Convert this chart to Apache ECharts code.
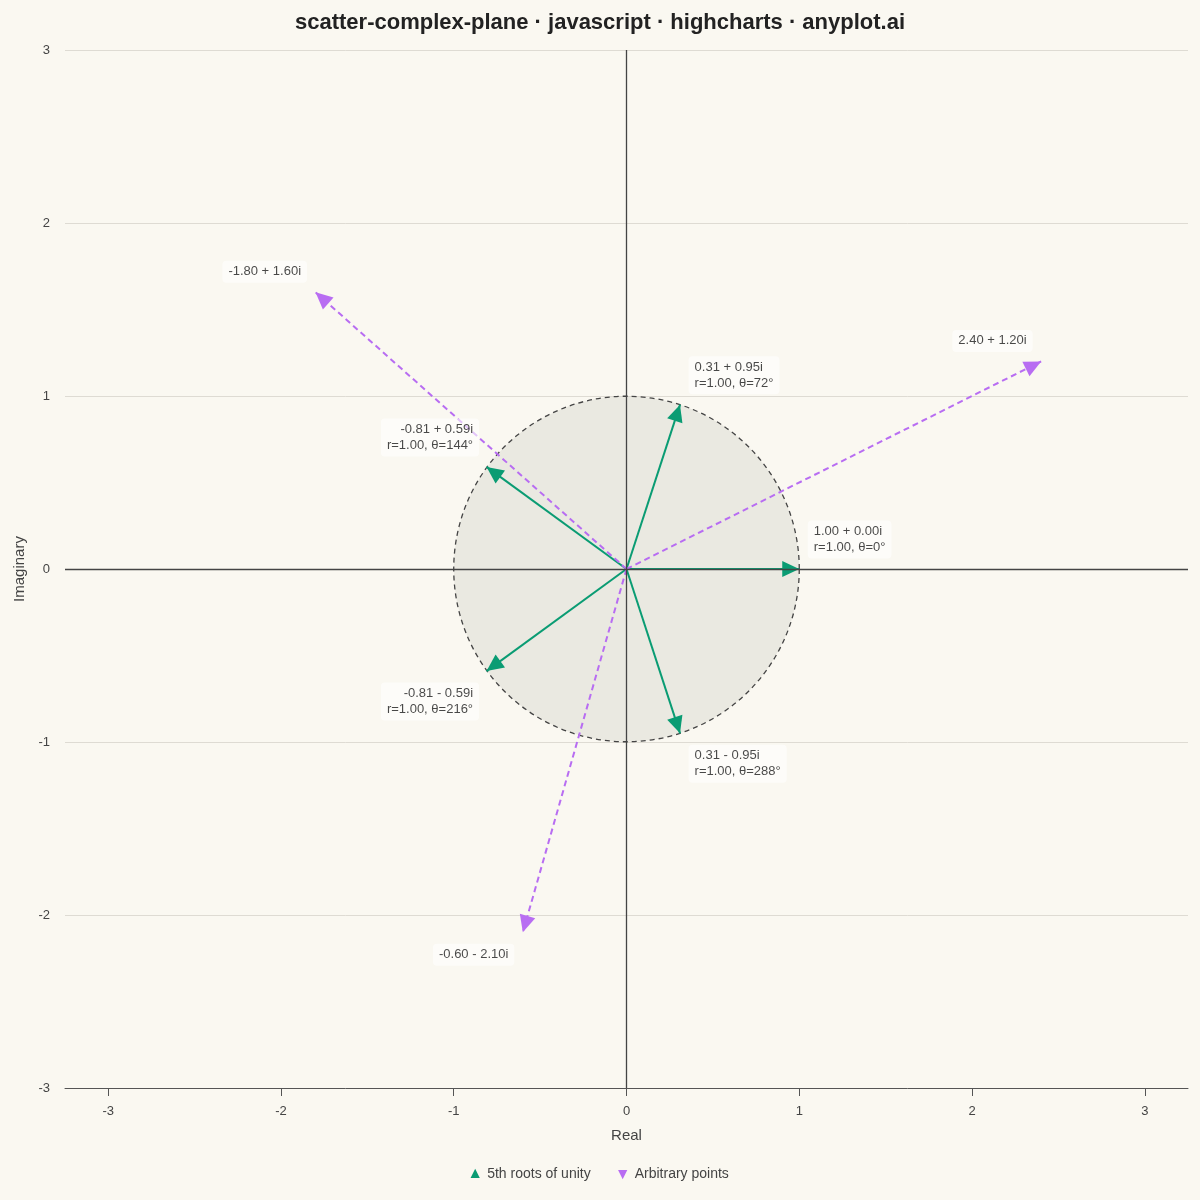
<!DOCTYPE html>
<html>
<head>
<meta charset="utf-8">
<script src="https://cdn.jsdelivr.net/npm/echarts@6/dist/echarts.min.js"></script>
<style>
html,body{margin:0;padding:0;background:#FAF8F1;}
#main{width:1200px;height:1200px;}
</style>
</head>
<body>
<div id="main"></div>
<script>
// values
var rootsRe = [1.00, 0.31, -0.81, -0.81, 0.31];
var rootsIm = [0.00, 0.95, 0.59, -0.59, -0.95];
var arbRe = [2.40, -1.80, -0.60];
var arbIm = [1.20, 1.60, -2.10];
var axisTicks = [-3, -2, -1, 0, 1, 2, 3];
var unitRadius = 1;

var GREEN = '#0A9C73';
var PURPLE = '#B86DF2';
var FONT = 'Liberation Sans, Arial, sans-serif';
var HEAD_W = 16, HEAD_H = 17;

var chart = echarts.init(document.getElementById('main'));

function fmt(re, im) {
    return re.toFixed(2) + (im < 0 ? ' - ' : ' + ') + Math.abs(im).toFixed(2) + 'i';
}
function polarText(re, im) {
    var r = Math.sqrt(re * re + im * im);
    var t = Math.atan2(im, re) * 180 / Math.PI;
    if (t < 0) t += 360;
    return 'r=' + r.toFixed(2) + ', θ=' + Math.round(t) + '°';
}

// shaft of each vector
function shafts(re, im) {
    return re.map(function (x, i) { return { coords: [[0, 0], [x, im[i]]] }; });
}
// arrow head: triangle turned along the vector, tip on the point
function heads(re, im) {
    return re.map(function (x, i) {
        var a = Math.atan2(im[i], x);
        return {
            value: [x, im[i]],
            symbolRotate: a * 180 / Math.PI - 90,
            symbolOffset: [-Math.cos(a) * HEAD_H / 2, Math.sin(a) * HEAD_H / 2]
        };
    });
}
function labelStyle(align, dx, dy) {
    return {
        show: true,
        position: [dx, dy],
        align: align,
        verticalAlign: 'middle',
        color: '#1A1A1A',
        fontSize: 13,
        lineHeight: 16,
        fontFamily: FONT,
        backgroundColor: 'rgba(255,255,255,0.75)',
        borderRadius: 4,
        padding: [3, 6]
    };
}
var rootLabels = rootsRe.map(function (x, i) {
    var y = rootsIm[i];
    var right = x > 0;
    return {
        value: [x, y],
        text: fmt(x, y) + '\n' + polarText(x, y),
        label: labelStyle(right ? 'left' : 'right', right ? 9 : -7, y < 0 ? 31 : -29)
    };
});
var arbLabels = arbRe.map(function (x, i) {
    var y = arbIm[i];
    return {
        value: [x, y],
        text: fmt(x, y),
        label: labelStyle('right', -8, y < 0 ? 23 : -20)
    };
});

var option = {
    backgroundColor: '#FAF8F1',
    animation: false,
    textStyle: { fontFamily: FONT },
    title: {
        text: 'scatter-complex-plane · javascript · highcharts · anyplot.ai',
        left: 'center',
        top: 7,
        textStyle: { fontSize: 22, fontWeight: 'bold', color: '#222', fontFamily: FONT }
    },
    legend: {
        top: 1162,
        left: 'center',
        itemWidth: 6,
        itemHeight: 6,
        itemGap: 28,
        textStyle: { fontSize: 14, color: '#444', fontFamily: FONT, padding: [0, 0, 0, 4] },
        data: [
            { name: '5th roots of unity', icon: 'triangle', itemStyle: { color: GREEN } },
            { name: 'Arbitrary points', icon: 'path://M0,0 L10,0 L5,10 Z', itemStyle: { color: PURPLE } }
        ]
    },
    grid: { left: 65, right: 12, top: 50, bottom: 112 },
    xAxis: {
        type: 'value',
        min: -3.25,
        max: 3.25,
        interval: 0.25,
        name: 'Real',
        nameLocation: 'middle',
        nameGap: 40,
        nameTextStyle: { fontSize: 15, color: '#444' },
        axisLine: { onZero: false, lineStyle: { color: '#555', width: 1 } },
        axisTick: { customValues: axisTicks, length: 8, lineStyle: { color: '#555' } },
        axisLabel: { customValues: axisTicks, color: '#444', fontSize: 13, margin: 17 },
        splitLine: { show: false }
    },
    yAxis: {
        type: 'value',
        min: -3,
        max: 3,
        interval: 1,
        name: 'Imaginary',
        nameLocation: 'middle',
        nameGap: 36,
        nameTextStyle: { fontSize: 15, color: '#444' },
        axisLine: { show: false },
        axisTick: { show: false },
        axisLabel: { color: '#444', fontSize: 13, margin: 15 },
        splitLine: { lineStyle: { color: '#DEDBD3' } }
    },
    series: [
        {
            // unit circle
            type: 'custom',
            silent: true,
            z: 1,
            data: [[0, 0]],
            renderItem: function (params, api) {
                var c = api.coord([0, 0]);
                var e = api.coord([unitRadius, 0]);
                return {
                    type: 'circle',
                    shape: { cx: c[0], cy: c[1], r: e[0] - c[0] },
                    style: { fill: 'rgba(200,198,190,0.3)', stroke: '#444', lineWidth: 1.3, lineDash: [5, 4] }
                };
            },
            markLine: {
                silent: true,
                symbol: 'none',
                label: { show: false },
                lineStyle: { color: '#444', type: 'solid', width: 1.3 },
                data: [{ xAxis: 0 }, { yAxis: 0 }]
            }
        },
        {
            name: '5th roots of unity',
            type: 'lines',
            coordinateSystem: 'cartesian2d',
            z: 3,
            lineStyle: { color: GREEN, width: 2, opacity: 1 },
            data: shafts(rootsRe, rootsIm)
        },
        {
            name: '5th roots of unity',
            type: 'scatter',
            symbol: 'triangle',
            symbolSize: [HEAD_W, HEAD_H],
            z: 4,
            itemStyle: { color: GREEN, opacity: 1 },
            data: heads(rootsRe, rootsIm)
        },
        {
            name: 'Arbitrary points',
            type: 'lines',
            coordinateSystem: 'cartesian2d',
            z: 3,
            lineStyle: { color: PURPLE, width: 2, type: [6, 4], opacity: 1 },
            data: shafts(arbRe, arbIm)
        },
        {
            name: 'Arbitrary points',
            type: 'scatter',
            symbol: 'triangle',
            symbolSize: [HEAD_W, HEAD_H],
            z: 4,
            itemStyle: { color: PURPLE, opacity: 1 },
            data: heads(arbRe, arbIm)
        },
        {
            name: '5th roots of unity',
            type: 'scatter',
            symbolSize: 1,
            z: 5,
            itemStyle: { color: 'rgba(0,0,0,0)' },
            label: { formatter: function (p) { return p.data.text; } },
            data: rootLabels
        },
        {
            name: 'Arbitrary points',
            type: 'scatter',
            symbolSize: 1,
            z: 5,
            itemStyle: { color: 'rgba(0,0,0,0)' },
            label: { formatter: function (p) { return p.data.text; } },
            data: arbLabels
        }
    ]
};
chart.setOption(option);
</script>
</body>
</html>
